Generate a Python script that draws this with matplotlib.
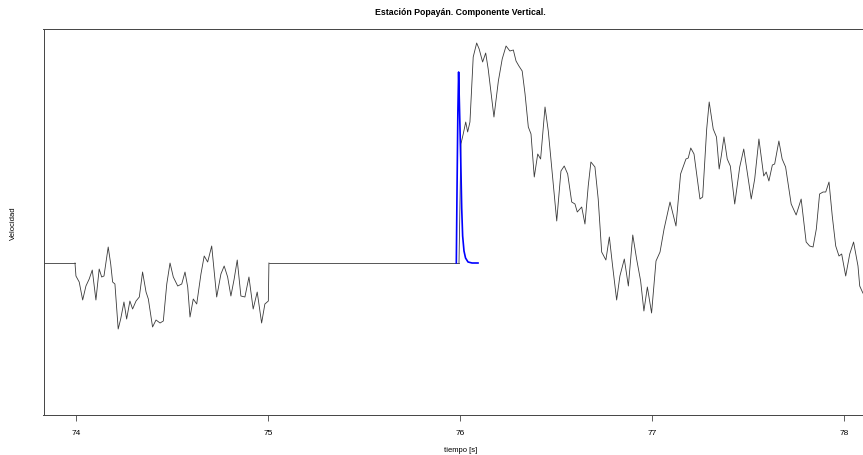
import matplotlib
matplotlib.use("Agg")
import matplotlib.pyplot as plt

plt.rcParams['font.family'] = ['Liberation Sans', 'DejaVu Sans']

# baseline segment before the first burst
t_pre = [73.70, 73.995]
v_pre = [0, 0]

# first burst (74 - 75 s)
t_a = [73.995, 74.000, 74.017, 74.035, 74.052, 74.069, 74.085, 74.104, 74.121, 74.134,
       74.146, 74.168, 74.181, 74.191, 74.203, 74.220, 74.233, 74.250, 74.264, 74.281,
       74.295, 74.313, 74.330, 74.347, 74.365, 74.377, 74.399, 74.417, 74.438, 74.455,
       74.473, 74.490, 74.507, 74.530, 74.551, 74.568, 74.582, 74.594, 74.611, 74.629,
       74.651, 74.668, 74.686, 74.707, 74.733, 74.755, 74.772, 74.790, 74.807, 74.824,
       74.840, 74.859, 74.880, 74.901, 74.923, 74.944, 74.967, 74.984, 75.002, 75.005]
v_a = [0, -13, -19, -37, -23, -16, -7, -37, -6, -14,
       -13, 16, -1, -19, -21, -66, -56, -39, -56, -38,
       -46, -38, -34, -9, -29, -36, -64, -57, -60, -58,
       -21, 0, -14, -23, -21, -9, -24, -54, -36, -41,
       -11, 7, 1, 17, -34, -11, -3, -14, -33, -16,
       3, -33, -34, -14, -46, -29, -60, -41, -38, 0]

# quiet interval
t_mid = [75.005, 75.995]
v_mid = [0, 0]

# main arrival (from 76 s)
t_b = [75.995, 76.005, 76.017, 76.030, 76.040, 76.052, 76.069, 76.087, 76.100, 76.118,
       76.134, 76.147, 76.177, 76.200, 76.220, 76.240, 76.260, 76.278, 76.292, 76.307,
       76.324, 76.339, 76.356, 76.370, 76.387, 76.405, 76.420, 76.443, 76.460, 76.481,
       76.504, 76.526, 76.543, 76.561, 76.582, 76.599, 76.611, 76.634, 76.651, 76.668,
       76.682, 76.703, 76.720, 76.738, 76.760, 76.778, 76.795, 76.816, 76.833, 76.856,
       76.877, 76.900, 76.920, 76.941, 76.958, 76.976, 76.998, 77.021, 77.042, 77.063,
       77.094, 77.125, 77.149, 77.177, 77.189, 77.202, 77.219, 77.250, 77.264, 77.285,
       77.298, 77.319, 77.336, 77.350, 77.361, 77.375, 77.392, 77.408, 77.431, 77.457,
       77.478, 77.496, 77.517, 77.535, 77.557, 77.582, 77.595, 77.609, 77.627, 77.639,
       77.661, 77.678, 77.696, 77.725, 77.751, 77.777, 77.803, 77.821, 77.839, 77.856,
       77.873, 77.891, 77.905, 77.922, 77.939, 77.957, 77.974, 77.988, 78.009, 78.030,
       78.050, 78.073, 78.082, 78.096, 78.115]
v_b = [0, 119, 129, 141, 131, 141, 206, 220, 214, 201,
       210, 194, 146, 182, 204, 217, 212, 213, 202, 197,
       192, 169, 136, 129, 86, 109, 104, 156, 132, 89,
       42, 92, 97, 89, 61, 59, 51, 56, 39, 77,
       101, 96, 64, 11, 3, 26, -3, -37, -13, 4,
       -23, 28, 4, -18, -48, -24, -50, 2, 11, 34,
       61, 37, 89, 104, 105, 115, 109, 64, 66, 134,
       161, 134, 126, 94, 107, 126, 104, 97, 59, 96,
       114, 91, 64, 84, 124, 87, 91, 82, 98, 99,
       122, 104, 96, 59, 48, 64, 21, 17, 16, 34,
       69, 71, 71, 81, 47, 17, 7, 9, -13, 9,
       21, -3, -23, -29, -36]

# synthetic pulse
t_pulse = [75.981, 75.984, 75.989, 75.993, 75.997, 76.004, 76.009, 76.014, 76.021,
           76.029, 76.042, 76.063, 76.094]
v_pulse = [0, 60, 150, 191, 160, 104, 55, 27, 12, 5, 1, 0, 0]

fig = plt.figure(figsize=(8.63, 4.56), dpi=100)
ax = fig.add_axes([43.5 / 863, 1 - 416 / 456, (877 - 43.5) / 863, (416 - 30) / 456])

for t, v in [(t_pre, v_pre), (t_a, v_a), (t_mid, v_mid), (t_b, v_b)]:
    ax.plot(t, v, color='#3a3a3a', lw=0.6, solid_joinstyle='round')
ax.plot(t_pulse, v_pulse, color='#0000ff', lw=1.2)

ax.set_xlim(73.831, 78.172)
ax.set_ylim(-152, 234)
ax.set_xticks([74, 75, 76, 77, 78])
ax.set_yticks([])
ax.tick_params(axis='x', length=4, width=0.6, labelsize=6, pad=6, color='#444444')
for s in ax.spines.values():
    s.set_linewidth(0.7)
    s.set_color('#444444')

ax.set_title('Estación Popayán. Componente Vertical.', fontsize=6.3,
             fontweight='bold', pad=11)
ax.set_xlabel('tiempo [s]', fontsize=5.5, labelpad=7)
ax.set_ylabel('Velocidad', fontsize=5.5, labelpad=19)

fig.savefig('out.png', dpi=100)
